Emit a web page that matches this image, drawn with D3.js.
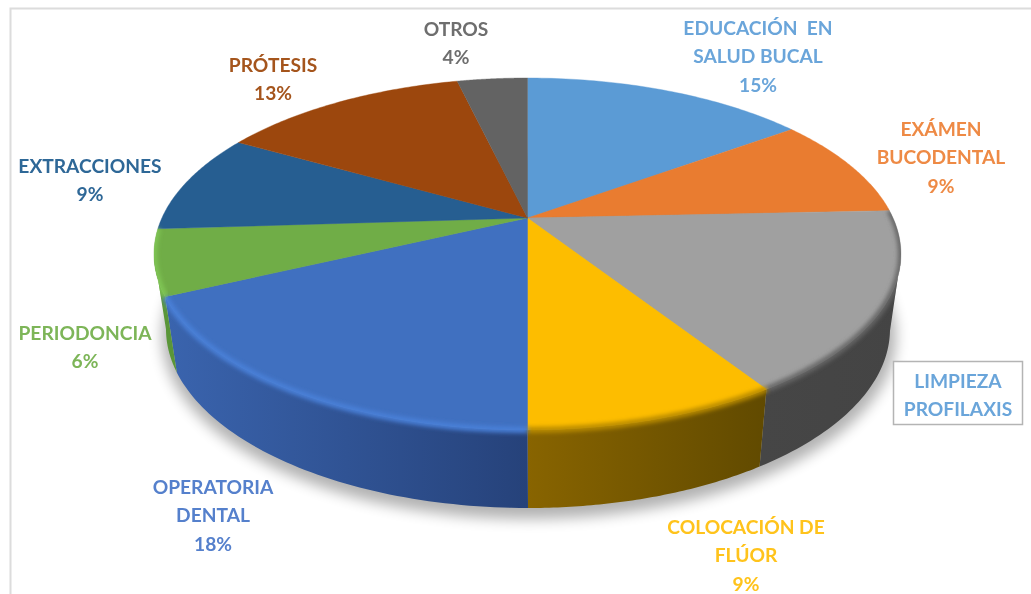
<!DOCTYPE html>
<html><head><meta charset="utf-8">
<script src="https://cdn.jsdelivr.net/npm/d3@7/dist/d3.min.js"></script>
<style>html,body{margin:0;padding:0;background:#fff;overflow:hidden}svg{display:block}</style>
</head><body><div id="chart"></div>
<script>
// ---- data ----
const categories = ["EDUCACIÓN  EN SALUD BUCAL","EXÁMEN BUCODENTAL","LIMPIEZA PROFILAXIS","COLOCACIÓN DE FLÚOR","OPERATORIA DENTAL","PERIODONCIA","EXTRACCIONES","PRÓTESIS","OTROS"];
const values = [15,9.3,16.6,9.1,18,6,9.2,13.1,3.7];
const labelLines = [["EDUCACIÓN  EN","SALUD BUCAL"],["EXÁMEN","BUCODENTAL"],["LIMPIEZA","PROFILAXIS"],["COLOCACIÓN DE","FLÚOR"],["OPERATORIA","DENTAL"],["PERIODONCIA"],["EXTRACCIONES"],["PRÓTESIS"],["OTROS"]];
const showPercent = [true,true,false,true,true,true,true,true,true];
// ---- styles / layout ----
const colors = ["#5b9bd5","#e97c30","#a0a0a0","#fdbd00","#4070c0","#70ad47","#265e91","#9c470d","#636363"];
const textColors = ["#6aa5da","#ee8a45","#6aa5da","#ffc31a","#5580cc","#7db558","#2f6797","#a5551f","#6e6e6e"];
const wallStops = [null,null,["#464646","#444444"],["#886400","#614a00"],["#3a64ae","#26427a"],["#5a9638","#5a9638"],null,null,null];
const rimColors = [null,null,"#666666","#b88a00","#4a80d8","#80c655",null,null,null];
const labelAnchors = [[758,28],[941,129],[958,381],[746,527],[213,487],[85,333],[90,166],[273,65],[456,29]];
const W=1031,H=594, lineGap=28.7;
const cx=527.5, apexY=218, k=-0.2045, a=124.05, c=365.6;
const eCy=254, eRy=176, eRx=373.5;          // top ellipse
const lCx=528, lCy=329, lRx=362, lRy=179;   // lower rim ellipse

const svg=d3.select("#chart").append("svg").attr("width",W).attr("height",H);
const defs=svg.append("defs");
[["b1",2],["b8",7],["t",0.45]].forEach(([id,s])=>{
  defs.append("filter").attr("id",id).attr("x","-20%").attr("y","-20%").attr("width","140%").attr("height","140%")
      .append("feGaussianBlur").attr("stdDeviation",s);
});

// frame
svg.append("path").attr("d",`M10.5,${H} V8.5 H${W}`).attr("fill","none").attr("stroke","#dcdcdc").attr("stroke-width",2);

// perspective projection of the unit pie onto the tilted disc
const project=th=>{
  const u=Math.sin(th), v=-Math.cos(th), d=1+k*v;
  return [cx+c*u/d,(a*v+apexY)/d];
};
const lower=p=>{
  const ct=Math.max(-1,Math.min(1,(p[0]-cx)/eRx));
  const st=(p[1]-eCy)/eRy, n=Math.hypot(ct,st)||1;
  return [lCx+lRx*ct/n,lCy+lRy*st/n];
};
const pie=d3.pie().sort(null).value(d=>d);
const arcs=pie(values);
const samples=d=>d3.range(0,61).map(i=>d.startAngle+(d.endAngle-d.startAngle)*i/60);
const line=d3.line();

// shadow
svg.append("ellipse").attr("cx",lCx+1).attr("cy",lCy+7).attr("rx",lRx+5).attr("ry",lRy+4)
   .attr("fill","#000").attr("opacity",.3).attr("filter","url(#b8)");

// clip region: disc plus walls
const clip=defs.append("clipPath").attr("id","disc");

// walls
const walls=svg.append("g");
arcs.forEach((d,i)=>{
  if(!wallStops[i]) return;
  const top=samples(d).map(project).filter(p=>p[1]>=eCy);
  if(top.length<2) return;
  const bottom=top.map(lower).reverse();
  const pts=top.concat(bottom);
  const id="w"+i, x0=d3.extent(pts,p=>p[0]);
  const g=defs.append("linearGradient").attr("id",id).attr("gradientUnits","userSpaceOnUse")
     .attr("x1",x0[0]).attr("x2",x0[1]).attr("y1",0).attr("y2",0);
  g.append("stop").attr("offset",0).attr("stop-color",wallStops[i][0]);
  g.append("stop").attr("offset",1).attr("stop-color",wallStops[i][1]);
  walls.append("path").attr("d",line(pts)+"Z").attr("fill",`url(#${id})`);
  clip.append("path").attr("d",line(pts)+"Z");
});

// top face
const faces=svg.append("g");
arcs.forEach((d,i)=>{
  const pts=[[cx,apexY]].concat(samples(d).map(project));
  faces.append("path").attr("d",line(pts)+"Z").attr("fill",colors[i]).attr("stroke",colors[i]).attr("stroke-width",.4);
  clip.append("path").attr("d",line(pts)+"Z");
});

// bevel along the rim
const rims=svg.append("g").attr("clip-path","url(#disc)");
arcs.forEach((d,i)=>{
  if(!rimColors[i]) return;
  rims.append("path").attr("d",line(samples(d).map(project)))
      .attr("fill","none").attr("stroke",rimColors[i]).attr("stroke-width",6).attr("filter","url(#b1)");
});

// boxed label
svg.append("rect").attr("x",893.5).attr("y",361.5).attr("width",129).attr("height",63)
   .attr("fill","#fff").attr("stroke","#b4b4b4").attr("stroke-width",1.5);

// labels
const fmt=d3.format(".0%"), total=d3.sum(values);
const labels=svg.append("g").attr("font-family","Lato, 'Open Sans', sans-serif").attr("font-weight",700)
   .attr("font-size",19.2).attr("text-anchor","middle").attr("filter","url(#t)");
labelLines.forEach((ls,i)=>{
  const lines=showPercent[i]?ls.concat(fmt(values[i]/total)):ls;
  lines.forEach((t,j)=>{
    labels.append("text").attr("x",labelAnchors[i][0]).attr("y",labelAnchors[i][1]+j*lineGap)
      .attr("dy","0.35em").attr("fill",textColors[i]).style("white-space","pre").text(t);
  });
});
</script></body></html>
